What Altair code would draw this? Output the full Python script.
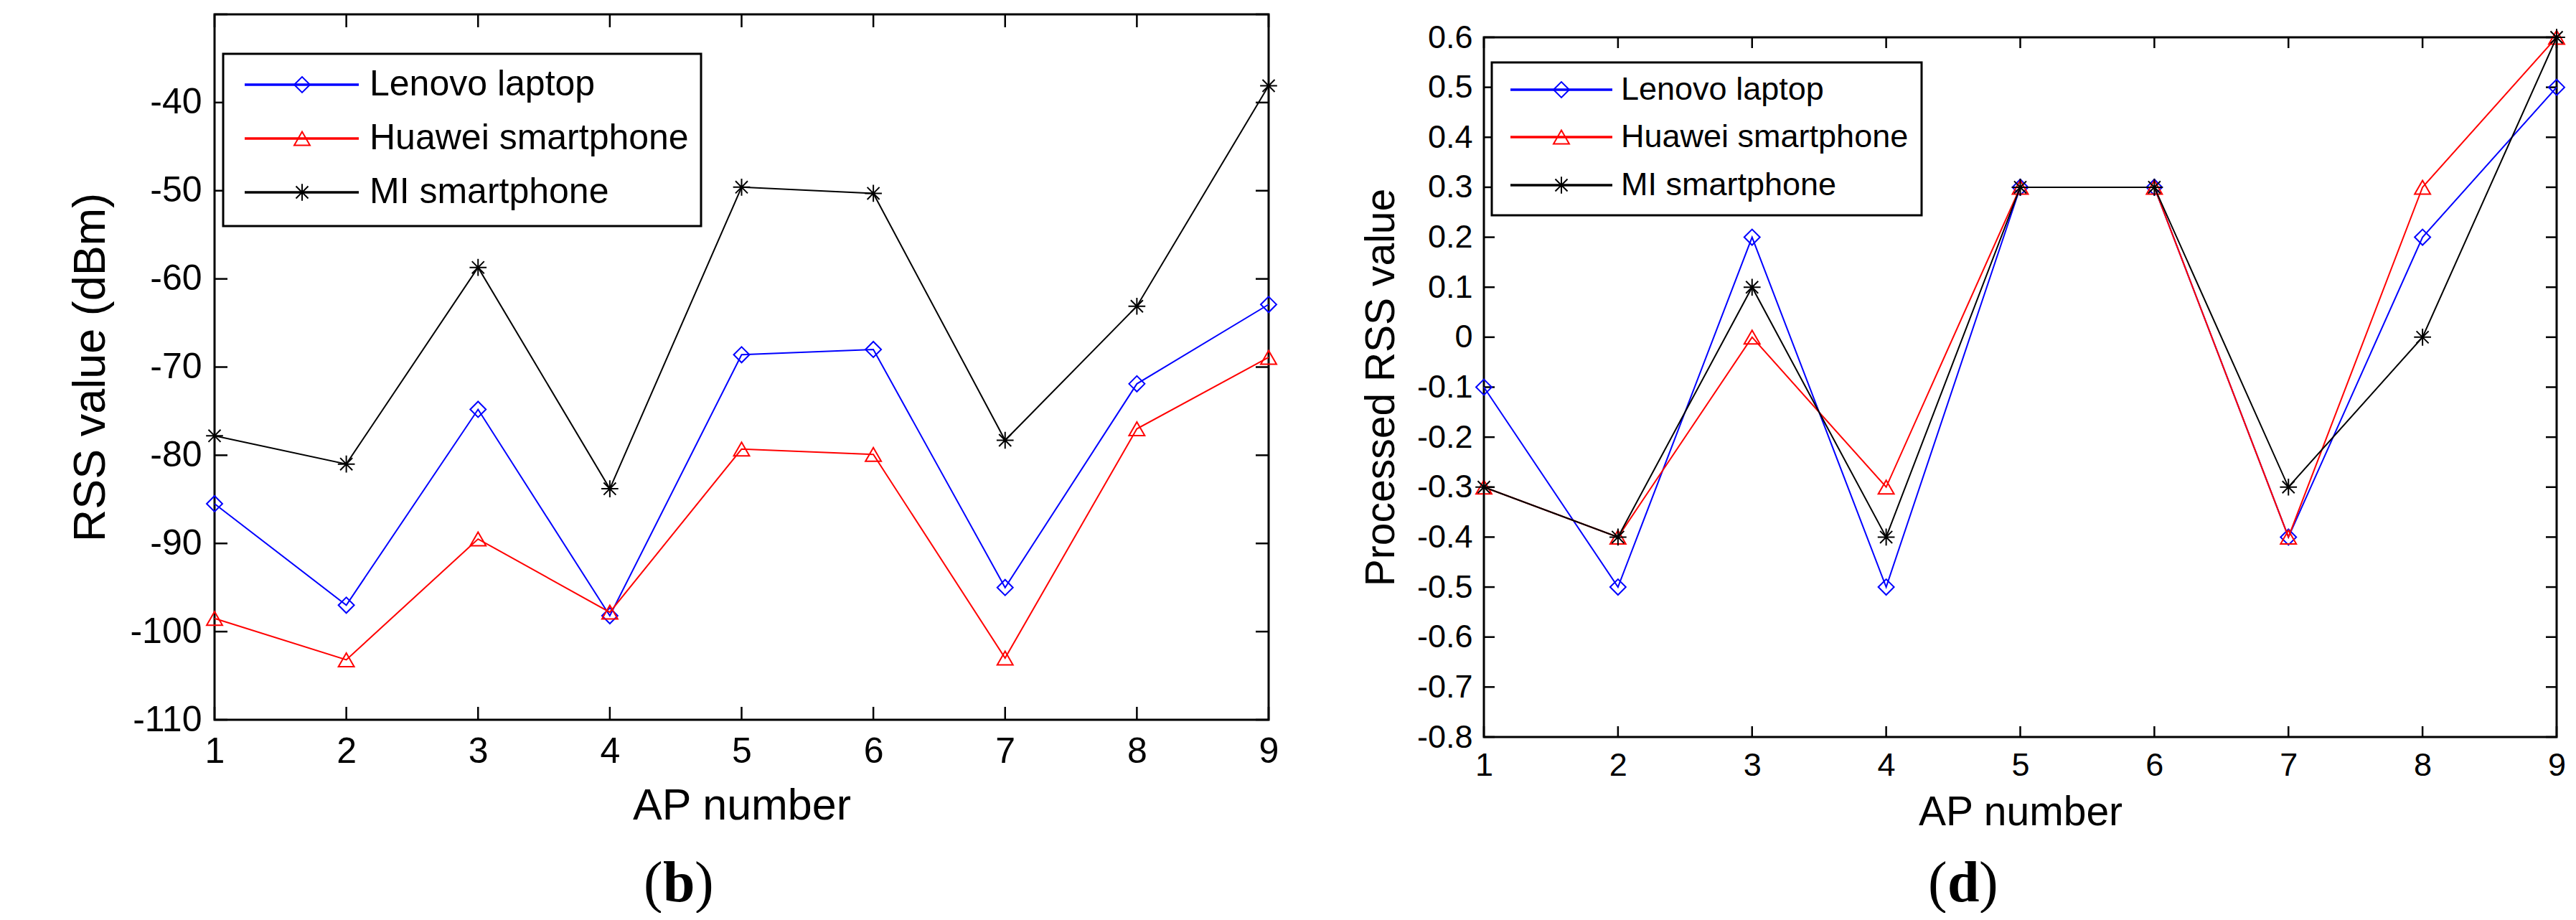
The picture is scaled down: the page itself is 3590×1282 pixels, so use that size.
import altair as alt
import pandas as pd

# ---------------- data ----------------
ap = [1, 2, 3, 4, 5, 6, 7, 8, 9]
series = ["Lenovo laptop", "Huawei smartphone", "MI smartphone"]
colors = ["#0000ff", "#ff0000", "#000000"]

rss_lenovo = [-85.5, -97.0, -74.8, -98.2, -68.6, -68.0, -95.0, -71.9, -62.9]
rss_huawei = [-98.5, -103.2, -89.5, -97.8, -79.3, -79.9, -103.0, -77.0, -68.9]
rss_mi = [-77.8, -81.0, -58.7, -83.8, -49.6, -50.3, -78.3, -63.1, -38.1]

proc_lenovo = [-0.1, -0.5, 0.2, -0.5, 0.3, 0.3, -0.4, 0.2, 0.5]
proc_huawei = [-0.3, -0.4, 0.0, -0.3, 0.3, 0.3, -0.4, 0.3, 0.6]
proc_mi = [-0.3, -0.4, 0.1, -0.4, 0.3, 0.3, -0.3, 0.0, 0.6]

left_yticks = [-110, -100, -90, -80, -70, -60, -50, -40, -30]
left_ylabels = [-110, -100, -90, -80, -70, -60, -50, -40]
right_yticks = [-0.8, -0.7, -0.6, -0.5, -0.4, -0.3, -0.2, -0.1, 0.0,
                0.1, 0.2, 0.3, 0.4, 0.5, 0.6]
xticks = ap

ASTERISK = "M-1,0L1,0M0,-1L0,1M-0.72,-0.72L0.72,0.72M-0.72,0.72L0.72,-0.72"
shapes = ["diamond", "triangle-up", ASTERISK]
sizes = [480, 480, 560]

SANS = "Liberation Sans, Arial, sans-serif"
SERIF = "Liberation Serif, Times New Roman, serif"


def build_panel(values_list, ydomain, yticks, ylabels, ylabel_expr, w, h, st):
    top = st["top"]
    xscale = alt.Scale(domain=[1, 9], nice=False, zero=False)
    yscale = alt.Scale(domain=ydomain, nice=False, zero=False, range=[h, top])
    xaxis = alt.Axis(
        values=xticks, ticks=False, domain=False, grid=False,
        labelFont=SANS, labelFontSize=st["tick_fs"], labelColor="black",
        labelPadding=st["xlab_pad"], labelFlush=False, labelOverlap=False,
        format="d",
        title="AP number", titleFont=SANS, titleFontSize=st["xtitle_fs"],
        titleFontWeight="normal", titleColor="black",
        titlePadding=st["xtitle_pad"])
    yaxis = alt.Axis(
        values=ylabels, ticks=False, domain=False, grid=False,
        labelFont=SANS, labelFontSize=st["tick_fs"], labelColor="black",
        labelPadding=st["ylab_pad"], labelFlush=False, labelOverlap=False,
        labelExpr=ylabel_expr,
        title=st["ytitle"], titleFont=SANS, titleFontSize=st["ytitle_fs"],
        titleFontWeight="normal", titleColor="black",
        titlePadding=st["ytitle_pad"])

    one = pd.DataFrame({"a": [0]})
    layers = []

    # invisible spacer fixing the panel's outer bounds
    layers.append(
        alt.Chart(one).mark_rule(color="white", strokeWidth=1).encode(
            x=alt.value(-st["left_over"]), x2=alt.value(w + st["right_over"]),
            y=alt.value(-st["top_over"]))
    )
    # axes box
    layers.append(
        alt.Chart(one).mark_rect(fillOpacity=0, stroke="black", strokeWidth=3).encode(
            x=alt.value(0), x2=alt.value(w), y=alt.value(top), y2=alt.value(h))
    )

    # inward tick marks
    tx = pd.DataFrame({"t": xticks})
    for y0, y1 in [(h, h - st["tick"]), (top, top + st["tick"])]:
        layers.append(
            alt.Chart(tx).mark_rule(color="black", strokeWidth=2.5).encode(
                x=alt.X("t:Q", scale=xscale, axis=xaxis),
                y=alt.value(y0), y2=alt.value(y1))
        )
    ty = pd.DataFrame({"t": yticks})
    for x0, x1 in [(0, st["tick"]), (w, w - st["tick"])]:
        layers.append(
            alt.Chart(ty).mark_rule(color="black", strokeWidth=2.5).encode(
                y=alt.Y("t:Q", scale=yscale, axis=yaxis),
                x=alt.value(x0), x2=alt.value(x1))
        )

    # data series
    for i, vals in enumerate(values_list):
        df = pd.DataFrame({"ap": ap, "v": vals})
        base = alt.Chart(df).encode(
            x=alt.X("ap:Q", scale=xscale, axis=xaxis),
            y=alt.Y("v:Q", scale=yscale, axis=yaxis))
        layers.append(base.mark_line(color=colors[i], strokeWidth=2))
        layers.append(base.mark_point(shape=shapes[i], size=sizes[i], filled=False,
                                      color=colors[i], strokeWidth=2, opacity=1))

    # legend box (drawn like the MATLAB legend)
    lg = st["legend"]
    layers.append(
        alt.Chart(one).mark_rect(fill="white", stroke="black", strokeWidth=3).encode(
            x=alt.value(lg["x0"]), x2=alt.value(lg["x1"]),
            y=alt.value(lg["y0"]), y2=alt.value(lg["y1"]))
    )
    for i, name in enumerate(series):
        ry = lg["rows"][i]
        layers.append(alt.Chart(one).mark_rule(color=colors[i], strokeWidth=3.5).encode(
            x=alt.value(lg["lx0"]), x2=alt.value(lg["lx1"]), y=alt.value(ry)))
        layers.append(alt.Chart(one).mark_point(shape=shapes[i], size=sizes[i], filled=False,
                                                color=colors[i], strokeWidth=2, opacity=1).encode(
            x=alt.value(lg["mx"]), y=alt.value(ry)))
        layers.append(alt.Chart(one).mark_text(align="left", baseline="middle", font=SANS,
                                               fontSize=lg["fs"], color="black").encode(
            x=alt.value(lg["tx"]), y=alt.value(ry), text=alt.value(name)))

    # caption "(b)" / "(d)"
    cap = st["cap"]
    layers.append(alt.Chart(one).mark_text(align="left", baseline="alphabetic", font=SERIF,
                                           fontSize=80, color="black").encode(
        x=alt.value(cap["x"]), y=alt.value(cap["y"]), text=alt.value("(")))
    layers.append(alt.Chart(one).mark_text(align="left", baseline="alphabetic", font=SERIF,
                                           fontSize=80, fontWeight="bold", color="black").encode(
        x=alt.value(cap["x"] + 27), y=alt.value(cap["y"]), text=alt.value(cap["letter"])))
    layers.append(alt.Chart(one).mark_text(align="left", baseline="alphabetic", font=SERIF,
                                           fontSize=80, color="black").encode(
        x=alt.value(cap["x"] + 71), y=alt.value(cap["y"]), text=alt.value(")")))

    return alt.layer(*layers).properties(width=w, height=h)


LW, LH = 1469, 983
RW, RH = 1495, 1007

left = build_panel(
    [rss_lenovo, rss_huawei, rss_mi], [-110, -30], left_yticks, left_ylabels,
    "datum.value < 0 ? '-' + format(-datum.value, 'd') : format(datum.value, 'd')",
    LW, LH,
    dict(top=0, left_over=290, right_over=20, top_over=11, tick=18,
         tick_fs=50, xlab_pad=19, xtitle_fs=61, xtitle_pad=21,
         ylab_pad=18, ytitle="RSS value (dBm)", ytitle_fs=63, ytitle_pad=22,
         legend=dict(x0=12, x1=678, y0=55, y1=295, rows=[98, 173, 248],
                     lx0=42, lx1=201, mx=122, tx=216, fs=50),
         cap=dict(x=598, y=1236, letter="b")))

right = build_panel(
    [proc_lenovo, proc_huawei, proc_mi], [-0.8, 0.6], right_yticks, right_yticks,
    "datum.value == 0 ? '0' : (datum.value < 0 ? '-' + format(-datum.value, '.1f') : format(datum.value, '.1f'))",
    RW, RH,
    dict(top=32, left_over=200, right_over=12, top_over=11, tick=15,
         tick_fs=45, xlab_pad=17, xtitle_fs=57, xtitle_pad=15,
         ylab_pad=16, ytitle="Processed RSS value", ytitle_fs=57, ytitle_pad=20,
         legend=dict(x0=11, x1=610, y0=67, y1=280, rows=[105, 171, 238],
                     lx0=37, lx1=179, mx=108, tx=191, fs=45),
         cap=dict(x=619, y=1236, letter="d")))

chart = alt.hconcat(left, right, spacing=78, bounds="full").properties(
    padding=0, background="white"
).configure_view(stroke=None)

chart.save("out.html", embed_options={"renderer": "svg", "actions": False})
